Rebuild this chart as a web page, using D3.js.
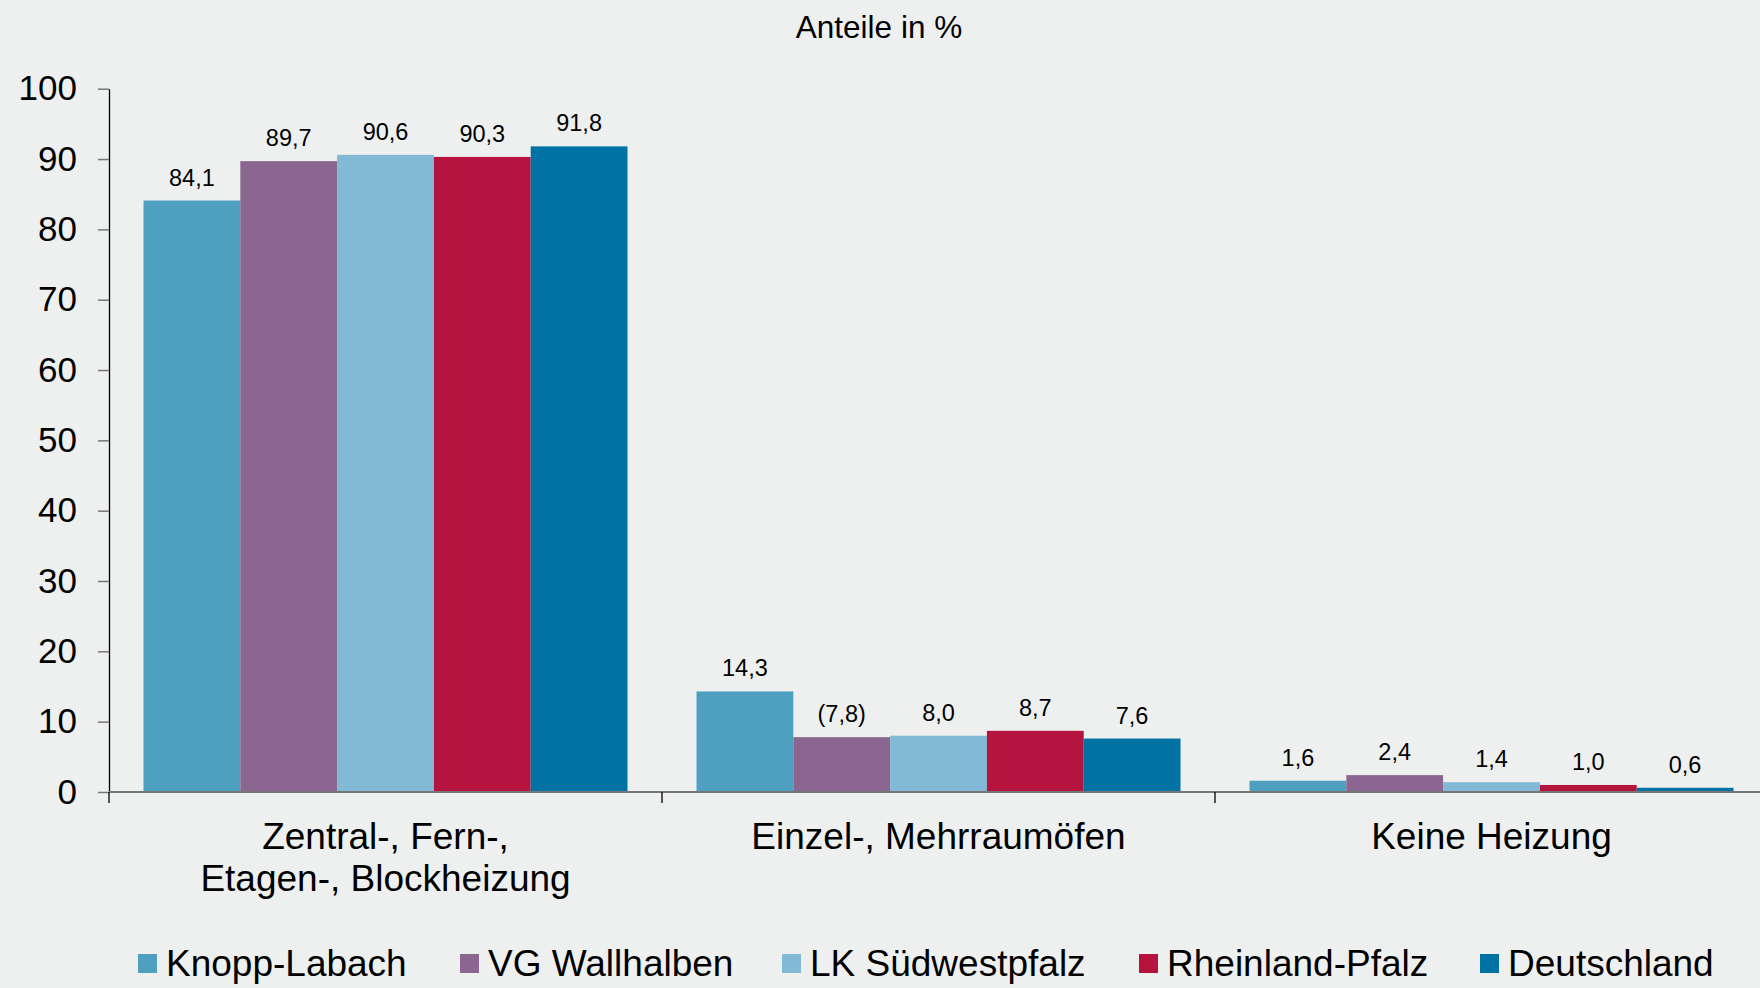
<!DOCTYPE html>
<html>
<head>
<meta charset="utf-8">
<script src="https://cdn.jsdelivr.net/npm/d3@7"></script>
<style>
  body { margin: 0; background: #eef0ef; }
  svg { display: block; font-family: "Liberation Sans", Arial, sans-serif; }
</style>
</head>
<body>
<svg width="1760" height="988"></svg>
<script>
// categories on the x axis (label lines)
let categories = ["Zentral-, Fern-,|Etagen-, Blockheizung", "Einzel-, Mehrraumöfen", "Keine Heizung"];
let seriesNames = ["Knopp-Labach", "VG Wallhalben", "LK Südwestpfalz", "Rheinland-Pfalz", "Deutschland"];
let seriesColors = ["#4f9fc0", "#8b6690", "#82b9d4", "#b5143e", "#0072a4"];
// values per series, one per category
let knoppLabach = [84.1, 14.3, 1.6];
let vgWallhalben = [89.7, 7.8, 2.4];
let lkSuedwestpfalz = [90.6, 8.0, 1.4];
let rheinlandPfalz = [90.3, 8.7, 1.0];
let deutschland = [91.8, 7.6, 0.6];
// values shown in brackets: [series index, category index]
let inBrackets = [[1, 1]];
let yTicks = [0, 10, 20, 30, 40, 50, 60, 70, 80, 90, 100];

let seriesValues = [knoppLabach, vgWallhalben, lkSuedwestpfalz, rheinlandPfalz, deutschland];
let fontFam = "'Liberation Sans', Arial, sans-serif";

let svg = d3.select("svg");

//scales
let xScale = d3.scaleBand().domain(categories).range([109, 1768]).padding(0);
let xInner = d3.scaleBand().domain(seriesNames).range([34.5, xScale.bandwidth() - 34.5]).padding(0);
let yScale = d3.scaleLinear().domain([0, 100]).range([792, 88.7]);

//title
svg.append("text")
  .attr("x", 879)
  .attr("y", 38)
  .attr("text-anchor", "middle")
  .style("font-size", "31.5px")
  .attr("fill", "#000")
  .text("Anteile in %");

//y axis
let yAxis = svg.append("g")
  .attr("transform", "translate(109,0)")
  .call(d3.axisLeft(yScale).tickValues(yTicks).tickSize(11).tickSizeOuter(0).tickPadding(21));
yAxis.select(".domain").attr("stroke", "#000").attr("stroke-width", 1.3);
yAxis.selectAll(".tick line").attr("stroke", "#777").attr("stroke-width", 1.5);
yAxis.selectAll(".tick text")
  .style("font-size", "35px")
  .style("font-family", fontFam)
  .attr("fill", "#000");

// BARS
let groups = svg.selectAll(".group")
  .data(categories)
  .enter()
  .append("g")
  .attr("class", "group")
  .attr("transform", function(d) {
    return "translate(" + xScale(d) + ",0)";
  });

function rowsFor(d, ci) {
  return seriesNames.map(function(s, si) {
    return { series: s, si: si, ci: ci, value: seriesValues[si][ci] };
  });
}

groups.selectAll(".bar")
  .data(rowsFor)
  .enter()
  .append("rect")
  .attr("class", "bar")
  .attr("x", function(d) { return xInner(d.series); })
  .attr("y", function(d) { return yScale(d.value); })
  .attr("width", xInner.bandwidth())
  .attr("height", function(d) { return yScale(0) - yScale(d.value); })
  .attr("fill", function(d) { return seriesColors[d.si]; });

//LABELS
groups.selectAll(".label")
  .data(rowsFor)
  .enter()
  .append("text")
  .attr("class", "label")
  .attr("x", function(d) { return xInner(d.series) + xInner.bandwidth() / 2; })
  .attr("y", function(d) { return yScale(d.value) - 15; })
  .attr("text-anchor", "middle")
  .style("font-size", "23.5px")
  .attr("fill", "#000")
  .text(function(d) {
    let t = d.value.toFixed(1).replace(".", ",");
    let br = inBrackets.some(function(p) { return p[0] == d.si && p[1] == d.ci; });
    return br ? "(" + t + ")" : t;
  });

//x axis baseline + separators
svg.append("line")
  .attr("x1", 109).attr("x2", 1768)
  .attr("y1", yScale(0)).attr("y2", yScale(0))
  .attr("stroke", "#777").attr("stroke-width", 2);
let bounds = categories.map(function(c) { return xScale(c); }).concat([xScale.range()[1]]);
svg.selectAll(".sep")
  .data(bounds)
  .enter()
  .append("line")
  .attr("class", "sep")
  .attr("x1", function(d) { return d; }).attr("x2", function(d) { return d; })
  .attr("y1", yScale(0)).attr("y2", yScale(0) + 11)
  .attr("stroke", "#000").attr("stroke-width", 1.3);

//category labels
svg.selectAll(".cat")
  .data(categories)
  .enter()
  .append("text")
  .attr("class", "cat")
  .attr("text-anchor", "middle")
  .attr("x", function(d) { return xScale(d) + xScale.bandwidth() / 2; })
  .attr("y", 849)
  .style("font-size", "37px")
  .attr("fill", "#000")
  .each(function(d) {
    let el = d3.select(this);
    let x = xScale(d) + xScale.bandwidth() / 2;
    d.split("|").forEach(function(line, i) {
      el.append("tspan").attr("x", x).attr("dy", i == 0 ? 0 : 42).text(line);
    });
  });

//legend
let legendX = [138, 460, 782, 1139, 1480];
let legend = svg.selectAll(".legend")
  .data(seriesNames)
  .enter()
  .append("g")
  .attr("class", "legend")
  .attr("transform", function(d, i) { return "translate(" + legendX[i] + ",954)"; });
legend.append("rect")
  .attr("width", 19).attr("height", 19)
  .attr("fill", function(d, i) { return seriesColors[i]; });
legend.append("text")
  .attr("x", 28).attr("y", 22)
  .style("font-size", "37px")
  .attr("fill", "#000")
  .text(function(d) { return d; });
</script>
</body>
</html>
